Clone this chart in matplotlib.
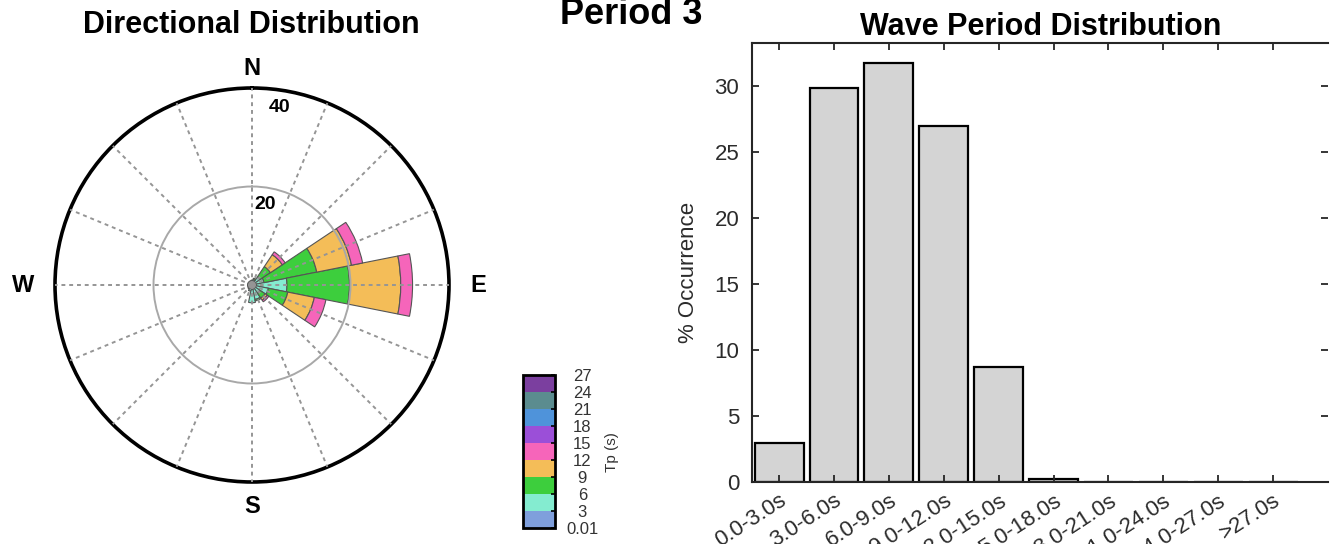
import numpy as np
import matplotlib
matplotlib.use('Agg')
from matplotlib import pyplot as plt
from matplotlib.colors import ListedColormap, BoundaryNorm
from matplotlib.cm import ScalarMappable

plt.rcParams['font.family'] = ['Liberation Sans', 'DejaVu Sans']

# rose data: % occurrence per direction, one list per Tp bin (stacked)
directions = ['N', 'NNE', 'NE', 'ENE', 'E', 'ESE', 'SE', 'SSE',
              'S', 'SSW', 'SW', 'WSW', 'W', 'WNW', 'NW', 'NNW']
dir_deg = [0, 22.5, 45, 67.5, 90, 112.5, 135, 157.5,
           180, 202.5, 225, 247.5, 270, 292.5, 315, 337.5]
tp_00_03 = [0.7, 0.7, 0.8, 0.8, 0.8, 0.8, 0.8, 0.8, 0.8, 0.7, 0.7, 0.7, 0.7, 0.7, 0.7, 0.7]
tp_03_06 = [0.3, 0.4, 1.2, 1.7, 6.3, 2.6, 1.2, 2.2, 2.8, 0.6, 0.3, 0.2, 0.2, 0.2, 0.2, 0.2]
tp_06_09 = [0, 0.3, 2.5, 10.9, 12.7, 4.0, 1.2, 0.3, 0, 0, 0, 0, 0, 0, 0, 0]
tp_09_12 = [0, 0, 2.9, 7.2, 10.4, 5.5, 0.5, 0, 0, 0, 0, 0, 0, 0, 0, 0]
tp_12_15 = [0, 0, 0.7, 2.3, 2.4, 2.4, 0.4, 0, 0, 0, 0, 0, 0, 0, 0, 0]

tp_bounds = [0.01, 3, 6, 9, 12, 15, 18, 21, 24, 27]
tp_colors = ['#7f9fdc', '#84ecd0', '#3dce3d', '#f4bd58', '#f665ba',
             '#9b4fd8', '#4f93da', '#5b8c8f', '#7b3f9f']

# wave period histogram
period_labels = ['0.0-3.0s', '3.0-6.0s', '6.0-9.0s', '9.0-12.0s', '12.0-15.0s',
                 '15.0-18.0s', '18.0-21.0s', '21.0-24.0s', '24.0-27.0s', '>27.0s']
period_pct = [2.9, 29.8, 31.7, 26.9, 8.7, 0.2, 0, 0, 0, 0]

W, H = 1332, 544
fig = plt.figure(figsize=(W / 100, H / 100), dpi=100)

# ---- rose ----
cx, cy, rad = 252, 285, 197
ax = fig.add_axes([(cx - rad) / W, (H - cy - rad) / H, 2 * rad / W, 2 * rad / H],
                  projection='polar')
ax.set_theta_zero_location('N')
ax.set_theta_direction(-1)
theta = np.deg2rad(dir_deg)
bottom = np.zeros(len(dir_deg))
for vals, col in zip([tp_00_03, tp_03_06, tp_06_09, tp_09_12, tp_12_15], tp_colors):
    vals = np.array(vals, dtype=float)
    m = vals > 0
    ax.bar(theta[m], vals[m], width=np.deg2rad(22.5), bottom=bottom[m],
           color=col, edgecolor='#555555', linewidth=0.8, align='center')
    bottom += vals
ax.set_ylim(0, 40)
ax.set_thetagrids(np.arange(0, 360, 22.5), labels=[''] * 16)
ax.set_rgrids([20], labels=[''])
ax.set_axisbelow(False)
for ln in ax.xaxis.get_gridlines():
    ln.set_linestyle((0, (2, 2)))
    ln.set_color('#959595')
    ln.set_linewidth(1.4)
for ln in ax.yaxis.get_gridlines():
    ln.set_linestyle('-')
    ln.set_color('#a8a8a8')
    ln.set_linewidth(1.4)
ax.spines['polar'].set_linewidth(2.6)
ax.spines['polar'].set_color('black')
for lab, ang, r in [('N', 0, 44), ('E', 90, 46), ('S', 180, 45), ('W', 270, 46.5)]:
    ax.text(np.deg2rad(ang), r, lab, ha='center', va='center',
            fontsize=17, fontweight='bold')
ax.text(np.deg2rad(9), 36.4, '40', ha='center', va='center', fontsize=14, fontweight='bold')
ax.text(np.deg2rad(9.1), 16.6, '20', ha='center', va='center', fontsize=14, fontweight='bold')

fig.text(251 / W, 1 - 33 / H, 'Directional Distribution', ha='center', va='baseline',
         fontsize=22, fontweight='bold')
fig.text(631 / W, 1 - 24 / H, 'Period 3', ha='center', va='baseline',
         fontsize=26, fontweight='bold')

# ---- colorbar ----
cax = fig.add_axes([523 / W, (H - 528) / H, 32 / W, 153 / H])
norm = BoundaryNorm(tp_bounds, len(tp_colors))
cb = fig.colorbar(ScalarMappable(norm=norm, cmap=ListedColormap(tp_colors)),
                  cax=cax, ticks=tp_bounds)
cb.ax.set_yticklabels(['0.01'] + [str(b) for b in tp_bounds[1:]])
cb.outline.set_linewidth(2)
cb.ax.tick_params(direction='in', length=3, width=1.2, labelsize=12,
                  labelcolor='#333333', pad=4)
for t in cb.ax.get_yticklabels():
    t.set_ha('center')
    t.set_x(1.68)
fig.text(612 / W, 1 - 452 / H, 'Tp (s)', rotation=90, ha='center', va='center',
         fontsize=11, color='#333333')

# ---- histogram ----
left, right, top, base = 751.7, 1328, 43.3, 481.7
ax2 = fig.add_axes([left / W, (H - base) / H, (right - left) / W, (base - top) / H])
ax2.bar(range(len(period_pct)), period_pct, width=0.89, color='#d4d4d4',
        edgecolor='black', linewidth=1.6)
ax2.set_xlim(-0.5, 10.0)
ax2.set_ylim(0, 33.2)
ax2.set_yticks(range(0, 31, 5))
ax2.set_xticks(range(len(period_labels)))
ax2.set_xticklabels(period_labels, rotation=33, ha='right', rotation_mode='anchor')
ax2.tick_params(direction='in', top=True, right=True, length=5, width=1.3,
                labelsize=16, labelcolor='#2b2b2b', color='#262626')
ax2.tick_params(axis='y', pad=9)
ax2.tick_params(axis='x', pad=6)
ax2.spines['right'].set_visible(False)
for s in ['left', 'bottom', 'top']:
    ax2.spines[s].set_linewidth(1.5)
    ax2.spines[s].set_color('#262626')
fig.text(688 / W, 1 - 272 / H, '% Occurrence', rotation=90, ha='center', va='center',
         fontsize=16, color='#2b2b2b')
fig.text(1041 / W, 1 - 34.7 / H, 'Wave Period Distribution', ha='center', va='baseline',
         fontsize=22, fontweight='bold')

fig.savefig('out.png', dpi=100)
